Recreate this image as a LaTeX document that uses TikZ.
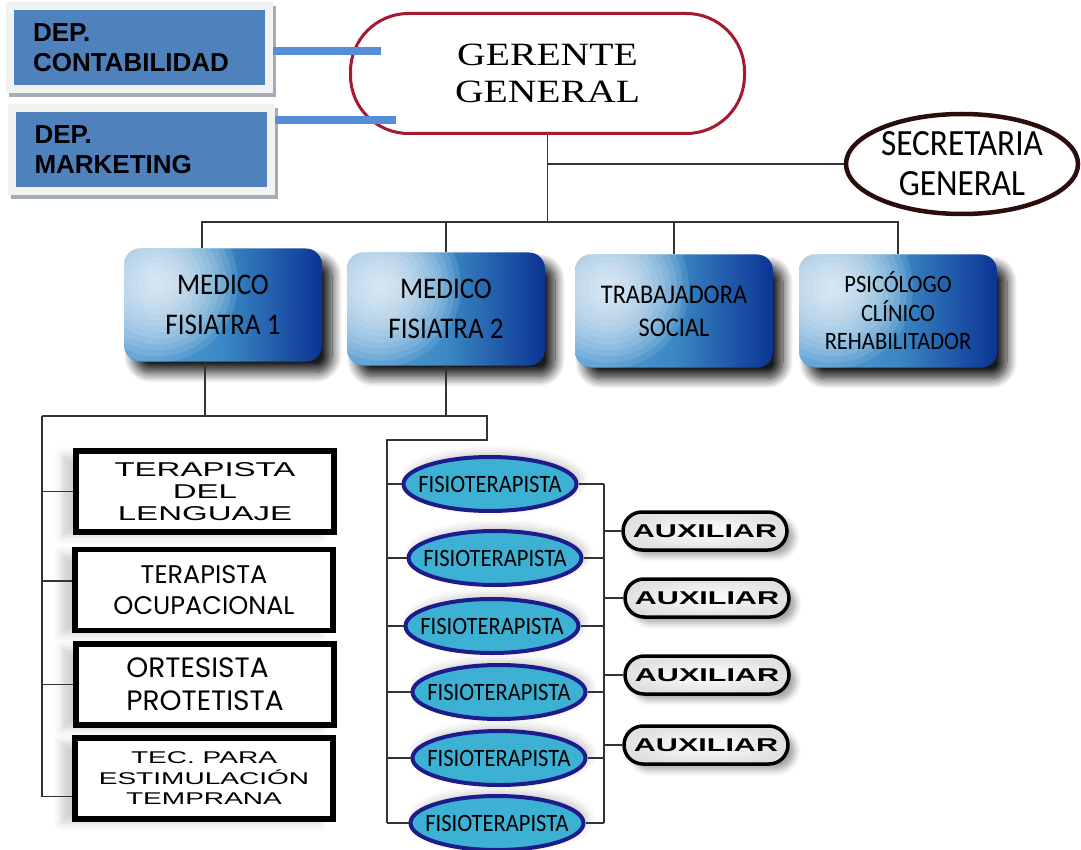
\documentclass[tikz,border=0pt]{standalone}
\usepackage{fontspec}
\usetikzlibrary{shapes.geometric,shadows.blur,calc}
\newfontfamily\condf[FakeStretch=0.9]{Carlito}
\newfontfamily\widef[FakeStretch=1.65]{Liberation Sans}
\newfontfamily\gothf{Poppins}
\newfontfamily\serf[FakeStretch=1.22]{Liberation Serif}
\newfontfamily\arialf{Liberation Sans}
\definecolor{depblue}{HTML}{4F81BD}
\definecolor{depframe}{HTML}{F2F2F2}
\definecolor{depshadow}{HTML}{A3ACB9}
\definecolor{bluelinec}{HTML}{558ED5}
\definecolor{gerred}{HTML}{A6192E}
\definecolor{secc}{HTML}{2A0E0E}
\definecolor{medL}{HTML}{5A9FD6}
\definecolor{medM}{HTML}{3A89C4}
\definecolor{medR}{HTML}{0B3494}
\definecolor{fisfill}{HTML}{3DB1D4}
\definecolor{fisborder}{HTML}{1E1B8C}
\definecolor{linec}{HTML}{333333}
\begin{document}
\begin{tikzpicture}[x=1pt,y=-1pt,
  depbox/.style={rectangle, draw=depframe, line width=8pt, fill=depblue,
    minimum width=259pt, minimum height=83pt, inner sep=0pt, text width=213pt, align=left,
    font=\arialf\bfseries\fontsize{26}{30}\selectfont,
    preaction={draw=depshadow, fill=depshadow, line width=8pt, transform canvas={xshift=3pt,yshift=-4pt}}},
  bline/.style={draw=bluelinec, line width=8pt},
  gerbox/.style={rectangle, rounded corners=58pt, draw=gerred, line width=3pt, fill=white,
    minimum width=394pt, minimum height=120pt, align=center,
    font=\serf\fontsize{32.5}{37}\selectfont},
  secbox/.style={ellipse, draw=secc, line width=4.5pt, fill=white, inner sep=0pt,
    minimum width=232pt, minimum height=100pt},
  sectext/.style={align=center, font=\condf\fontsize{37}{40}\selectfont},
  medbox/.style={rectangle, rounded corners=16pt, minimum width=198pt, minimum height=113pt,
    left color=medL, right color=medR, middle color=medM, align=center, text=black,
    blur shadow={shadow xshift=10pt, shadow yshift=-11pt, shadow opacity=90, shadow blur radius=10pt, shadow blur steps=14},
    path picture={
      \foreach \r in {80,74,...,8} {
        \fill[white, opacity=0.11] ([xshift=34pt,yshift=-34pt]path picture bounding box.north west) circle (\r pt);
      }}},
  tbox/.style={rectangle, draw=black, line width=5.5pt, fill=white, minimum width=258pt,
    minimum height=81pt, align=center,
    blur shadow={shadow xshift=-14pt, shadow yshift=-4pt, shadow opacity=18, shadow blur radius=8pt}},
  fisbox/.style={ellipse, draw=fisborder, line width=4pt, fill=fisfill, inner sep=0pt,
    minimum width=173pt, minimum height=54pt,
    blur shadow={shadow xshift=4pt, shadow yshift=4pt, shadow opacity=22, shadow blur radius=8pt},
    label={[font=\condf\fontsize{25}{25}\selectfont]center:FISIOTERAPISTA}},
  auxbox/.style={rectangle, rounded corners=19pt, draw=black, line width=3.5pt,
    inner color=white, outer color=black!12, minimum width=164pt, minimum height=38pt,
    font=\widef\bfseries\fontsize{18.5}{20}\selectfont,
    blur shadow={shadow xshift=7pt, shadow yshift=-6pt, shadow opacity=35, shadow blur radius=6pt}},
  conn/.style={draw=linec, line width=1.3pt}
]
\useasboundingbox (0,0) rectangle (1081,850);

% top-left departments
\node[depbox] (contab) at (139.5,47.5) {DEP.\\CONTABILIDAD};
\node[depbox] (mkt) at (141,150) {DEP.\\MARKETING};

% manager and secretary
\node[gerbox] (ger) at (547.5,73.5) {GERENTE\\GENERAL};
\node[secbox, label={[sectext]center:SECRETARIA\\GENERAL}] (sec) at (962,164) {};

\coordinate (c1) at (381,51);
\coordinate (c2) at (396,120);
\draw[bline] (contab.east |- c1) -- (c1);
\draw[bline] (mkt.east |- c2) -- (c2);

% medical level
\node[medbox, font=\condf\fontsize{30}{40}\selectfont] (m1) at (223,305) {MEDICO\\FISIATRA 1};
\node[medbox, font=\condf\fontsize{30}{40}\selectfont] (m2) at (446,309) {MEDICO\\FISIATRA 2};
\node[medbox, font=\condf\fontsize{27}{33}\selectfont] (ts) at (674,311) {TRABAJADORA\\SOCIAL};
\node[medbox, font=\condf\fontsize{25}{28.5}\selectfont] (ps) at (898,311) {PSICÓLOGO\\CLÍNICO\\REHABILITADOR};

% therapists (left column)
\node[tbox, font=\widef\fontsize{20}{22}\selectfont] (t1) at (205,491.5) {TERAPISTA\\DEL\\LENGUAJE};
\node[tbox, font=\gothf\fontsize{25.5}{31}\selectfont] (t2) at (204,590) {TERAPISTA\\OCUPACIONAL};
\node[tbox, font=\gothf\fontsize{28}{33}\selectfont, align=left] (t3) at (205,684.5) {ORTESISTA\\PROTETISTA};
\node[tbox, font=\widef\fontsize{17}{20.5}\selectfont] (t4) at (204,778.5) {TEC. PARA\\ESTIMULACIÓN\\TEMPRANA};

% physiotherapists
\node[fisbox] (f1) at (490,484) {};
\node[fisbox] (f2) at (495,558) {};
\node[fisbox] (f3) at (492,626) {};
\node[fisbox] (f4) at (499,692) {};
\node[fisbox] (f5) at (499,758) {};
\node[fisbox] (f6) at (497,823) {};

% auxiliaries
\node[auxbox] (a1) at (705,531) {AUXILIAR};
\node[auxbox] (a2) at (707,598) {AUXILIAR};
\node[auxbox] (a3) at (707,675) {AUXILIAR};
\node[auxbox] (a4) at (706,745) {AUXILIAR};

% connectors upper
\coordinate (bus) at (549,222);
\draw[conn] (ger.south) -- (ger.south |- bus);
\draw[conn] (ger.south |- sec.west) -- (sec.west);
\draw[conn] ([xshift=-21pt]m1.north) -- ([xshift=-21pt]m1.north |- bus) -- (bus -| ps.north) -- (ps.north);
\draw[conn] (m2.north) -- (m2.north |- bus);
\draw[conn] (ts.north) -- (ts.north |- bus);

% connectors lower
\coordinate (lb) at (42,416);
\coordinate (rb) at (487,440);
\coordinate (fs) at (387,440);
\coordinate (rs) at (604,484);
\coordinate (t2b) at ([yshift=9pt]t2.west);
\coordinate (t4b) at ([yshift=-18pt]t4.west);
\draw[conn] ([xshift=-18pt]m1.south) -- ([xshift=-18pt]m1.south |- lb);
\draw[conn] (m2.south) -- (m2.south |- lb);
\draw[conn] (lb) -- (lb -| rb) -- (rb) -- (fs) -- (fs |- f6.west);
\draw[conn] (lb) -- (lb |- t4b) -- (t4b);
\draw[conn] (lb |- t1.west) -- (t1.west);
\draw[conn] (lb |- t2b) -- (t2b);
\draw[conn] (lb |- t3.west) -- (t3.west);
\foreach \i in {1,...,6} {
  \draw[conn] (fs |- f\i.west) -- (f\i.west);
  \draw[conn] (f\i.east) -- (rs |- f\i.east);
}
\draw[conn] (rs |- f1.east) -- (rs |- f6.east);
\foreach \i in {1,...,4} {
  \draw[conn] (rs |- a\i.west) -- (a\i.west);
}
\end{tikzpicture}
\end{document}
